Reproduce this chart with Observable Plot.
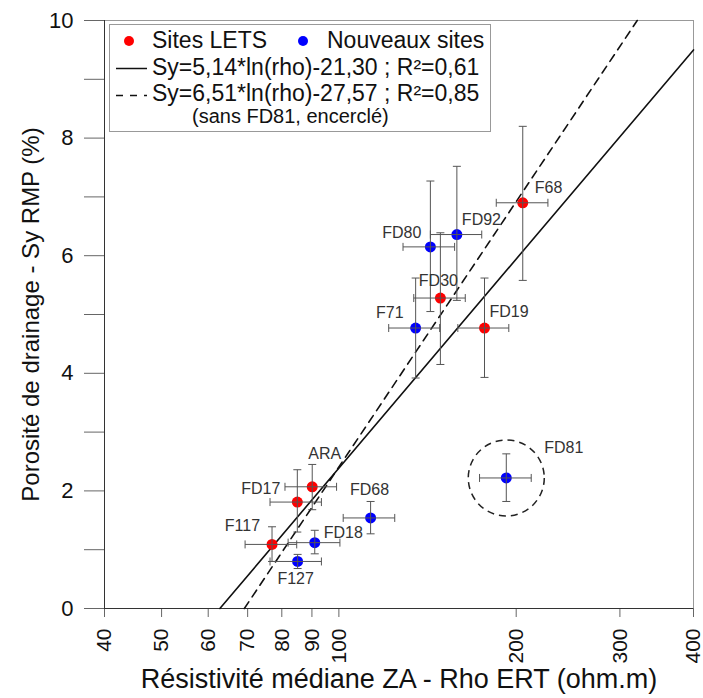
<!DOCTYPE html>
<html><head><meta charset="utf-8">
<script src="https://cdn.jsdelivr.net/npm/d3@7"></script>
<script src="https://cdn.jsdelivr.net/npm/@observablehq/plot@0.6"></script>
<style>
body{margin:0;background:#fff;font-family:"Liberation Sans",Arial,sans-serif;}
#wrap{position:relative;width:703px;height:698px;}
#legend{position:absolute;left:109px;top:24px;}
</style></head><body><div id="wrap"></div>
<script>
// ---- data ----
const sites  = ["F68","FD92","FD80","FD30","F71","FD19","FD81","ARA","FD17","FD68","F117","FD18","F127"];
const groups = ["Sites LETS","Nouveaux sites","Nouveaux sites","Sites LETS","Nouveaux sites","Sites LETS","Nouveaux sites","Sites LETS","Sites LETS","Nouveaux sites","Sites LETS","Nouveaux sites","Nouveaux sites"];
const rho    = [205.2, 158.6, 143.0, 148.7, 135.0, 176.7, 192.4, 90.1, 85.0, 113.2, 77.0, 91.0, 85.1];
const rhoLo  = [185.0, 143.0, 128.5, 134.0, 121.5, 159.2, 173.3, 81.0, 76.4, 101.7, 69.3, 82.0, 76.4];
const rhoHi  = [226.4, 174.8, 157.2, 163.9, 148.3, 194.3, 212.1, 99.1, 93.4, 124.4, 84.8, 100.4, 93.4];
const syVal  = [6.90, 6.36, 6.15, 5.28, 4.77, 4.77, 2.22, 2.07, 1.81, 1.54, 1.09, 1.12, 0.80];
const syLo   = [5.58, 5.24, 5.05, 4.15, 3.92, 3.93, 1.82, 1.68, 1.30, 1.27, 0.80, 0.93, 0.68];
const syHi   = [8.20, 7.52, 7.27, 6.39, 5.62, 5.62, 2.63, 2.45, 2.36, 1.82, 1.39, 1.33, 0.92];
const circledSite = "FD81";
// regression lines (endpoints of Sy = a*ln(rho) + b within the frame)
const fitAllRho  = [62.8, 400];  const fitAllSy  = [0, 9.5];
const fitNoRho   = [69.1, 321];  const fitNoSy   = [0, 10];
const xTicks = [40, 50, 60, 70, 80, 90, 100, 200, 300, 400];
const yTicks = [0, 1, 2, 3, 4, 5, 6, 7, 8, 9, 10];
const groupNames = ["Sites LETS", "Nouveaux sites"];
const legendLines = ["Sy=5,14*ln(rho)-21,30 ; R²=0,61", "Sy=6,51*ln(rho)-27,57 ; R²=0,85", "(sans FD81, encerclé)"];
const xTitle = "Résistivité médiane ZA - Rho ERT (ohm.m)";
const yTitle = "Porosité de drainage - Sy RMP (%)";

// ---- label placement (layout only) ----
const labelPos = {
  F68:  {a:"start",  dx:12,  dy:-10},
  FD92: {a:"start",  dx:5,   dy:-10},
  FD80: {a:"end",    dx:-9,  dy:-9},
  FD30: {a:"middle", dx:-2,  dy:-12},
  F71:  {a:"end",    dx:-12, dy:-10},
  FD19: {a:"start",  dx:5,   dy:-11},
  FD81: {a:"start",  dx:38,  dy:-25},
  ARA:  {a:"start",  dx:-4,  dy:-28},
  FD17: {a:"end",    dx:-17, dy:-8},
  FD68: {a:"middle", dx:-1,  dy:-23},
  F117: {a:"end",    dx:-12, dy:-13},
  FD18: {a:"start",  dx:9,   dy:-5},
  F127: {a:"middle", dx:-2,  dy:23}
};

const data = sites.map((s, i) => ({site: s, grp: groups[i], rho: rho[i], lo: rhoLo[i], hi: rhoHi[i], sy: syVal[i], syLo: syLo[i], syHi: syHi[i]}));
const fitAll = fitAllRho.map((r, i) => ({rho: r, sy: fitAllSy[i]}));
const fitNo = fitNoRho.map((r, i) => ({rho: r, sy: fitNoSy[i]}));

const capH = {draw(ctx, size){const r = Math.sqrt(size/Math.PI); ctx.moveTo(-r,0); ctx.lineTo(r,0);}};
const capV = {draw(ctx, size){const r = Math.sqrt(size/Math.PI); ctx.moveTo(0,-r); ctx.lineTo(0,r);}};
const errC = "#555";

const labelMarks = data.map(d => {
  const p = labelPos[d.site];
  return Plot.text([d], {x: "rho", y: "sy", text: "site", textAnchor: p.a, dx: p.dx, dy: p.dy, lineAnchor: "bottom", fontSize: 16, fill: "#333"});
});

const plot = Plot.plot({
  width: 703, height: 698,
  marginLeft: 104, marginRight: 10, marginTop: 20, marginBottom: 90,
  style: {fontFamily: '"Liberation Sans", Arial, sans-serif', fontSize: "22px", color: "#111", background: "white", overflow: "visible"},
  x: {type: "log", domain: [40, 400]},
  y: {domain: [0, 10]},
  color: {domain: groupNames, range: ["#ff0000", "#0000ff"]},
  marks: [
    Plot.frame({stroke: "#999"}),
    Plot.axisX({ticks: xTicks, tickFormat: d => String(d), tickRotate: -90, tickSize: 9, tickPadding: 11, fontSize: 21, stroke: "#666", fill: "#111", label: null}),
    Plot.axisY({ticks: yTicks, tickFormat: d => d % 2 === 0 ? String(d) : "", tickSize: 20, tickPadding: 11, fontSize: 22, stroke: "#666", fill: "#111", label: null}),
    Plot.ruleX([40], {stroke: "#333"}),
    Plot.ruleY([0], {stroke: "#333"}),
    Plot.line(fitAll, {x: "rho", y: "sy", stroke: "#111", strokeWidth: 1.6}),
    Plot.line(fitNo, {x: "rho", y: "sy", stroke: "#111", strokeWidth: 1.6, strokeDasharray: "8,6"}),
    Plot.dot(data.filter(d => d.site === circledSite), {x: "rho", y: "sy", r: 38, stroke: "#222", strokeWidth: 1.5, strokeDasharray: "7,5", fill: "none"}),
    Plot.dot(data, {x: "rho", y: "sy", fill: "grp", r: 5.5}),
    Plot.link(data, {x1: "lo", x2: "hi", y1: "sy", y2: "sy", stroke: errC, strokeWidth: 1}),
    Plot.link(data, {x1: "rho", x2: "rho", y1: "syLo", y2: "syHi", stroke: errC, strokeWidth: 1}),
    Plot.dot(data, {x: "lo", y: "sy", symbol: capV, r: 4, stroke: errC, strokeWidth: 1}),
    Plot.dot(data, {x: "hi", y: "sy", symbol: capV, r: 4, stroke: errC, strokeWidth: 1}),
    Plot.dot(data, {x: "rho", y: "syLo", symbol: capH, r: 4, stroke: errC, strokeWidth: 1}),
    Plot.dot(data, {x: "rho", y: "syHi", symbol: capH, r: 4, stroke: errC, strokeWidth: 1}),
    ...labelMarks,
    Plot.text([xTitle], {frameAnchor: "bottom", dy: 71, fontSize: 27, textAnchor: "middle", lineAnchor: "middle", fill: "#111"}),
    Plot.text([yTitle], {frameAnchor: "left", dx: -73, rotate: -90, fontSize: 24, textAnchor: "middle", lineAnchor: "middle", fill: "#111"})
  ]
});
const wrap = document.getElementById("wrap");
wrap.appendChild(plot);

// legend (HTML overlay with inline SVG)
const ns = "http://www.w3.org/2000/svg";
const lg = document.createElementNS(ns, "svg");
lg.setAttribute("id", "legend");
lg.setAttribute("width", 382); lg.setAttribute("height", 108);
lg.style.fontFamily = '"Liberation Sans", Arial, sans-serif';
function el(tag, attrs, txt){const e = document.createElementNS(ns, tag); for (const k in attrs) e.setAttribute(k, attrs[k]); if (txt) e.textContent = txt; lg.appendChild(e); return e;}
el("rect", {x:0.5, y:0.5, width:381, height:107, fill:"white", stroke:"#999"});
const cols = ["#ff0000", "#0000ff"];
[[20, 43], [194, 218]].forEach(([cx, tx], i) => {
  el("circle", {cx, cy:17, r:5, fill: cols[i]});
  el("text", {x: tx, y: 24, "font-size": 23, fill: "#111"}, groupNames[i]);
});
el("line", {x1:7, x2:38, y1:44.5, y2:44.5, stroke:"#111", "stroke-width":1.5});
el("text", {x:43, y:51, "font-size":23, fill:"#111"}, legendLines[0]);
el("line", {x1:7, x2:38, y1:71.5, y2:71.5, stroke:"#111", "stroke-width":1.5, "stroke-dasharray":"7,7"});
el("text", {x:43, y:77, "font-size":23, fill:"#111"}, legendLines[1]);
el("text", {x:83, y:99, "font-size":20, fill:"#111"}, legendLines[2]);
wrap.appendChild(lg);
</script></body></html>
